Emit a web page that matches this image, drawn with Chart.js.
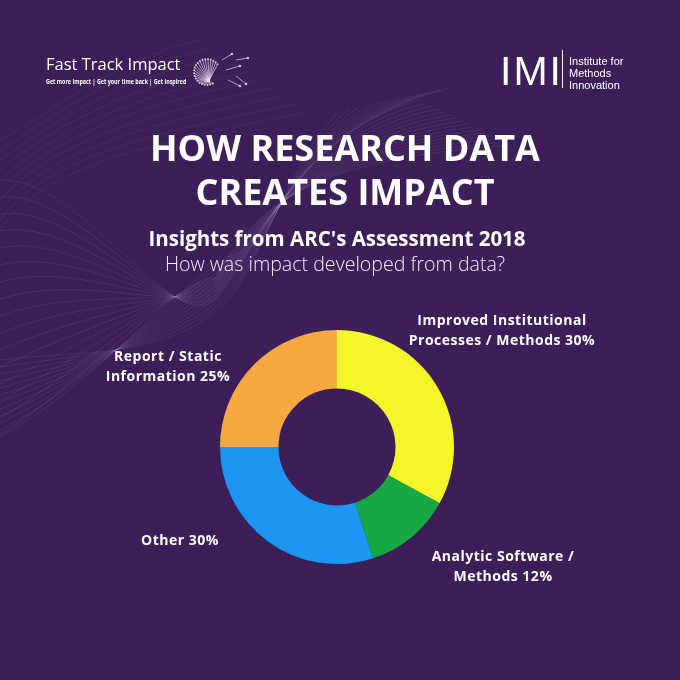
<!DOCTYPE html>
<html>
<head>
<meta charset="utf-8">
<script src="https://cdn.jsdelivr.net/npm/chart.js@4.4.1/dist/chart.umd.min.js"></script>
<style>
  html, body { margin: 0; padding: 0; background: #3c1f58; }
  #wrap { position: relative; width: 680px; height: 680px; overflow: hidden; background: #3c1f58; font-family: "Open Sans", sans-serif; color: #fff; }
  #bg, #chartBox { position: absolute; left: 0; top: 0; width: 680px; height: 680px; }
  .t { position: absolute; white-space: nowrap; line-height: 1; }
  .c { text-align: center; transform: translateX(-50%); }
  #title { left: 345px; top: 126px; font-size: 36px; font-weight: 700; line-height: 44px; letter-spacing: 0; }
  #sub1 { left: 337px; top: 228px; font-size: 20.5px; font-weight: 700; }
  #sub2 { left: 335px; top: 254px; font-size: 19.6px; font-weight: 300; color: #f1ecf5; }
  .lab { position: absolute; font-size: 14px; font-weight: 700; line-height: 20px; letter-spacing: 0.5px; text-align: center; transform: translateX(-50%); white-space: nowrap; }
  #fti { left: 46px; top: 56px; font-size: 16.5px; font-weight: 400; }
  #ftiTag { left: 46px; top: 79px; font-size: 6.4px; font-weight: 700; transform-origin: 0 0; transform: scaleX(0.84); }
  #imi { left: 500px; top: 51px; font-family: "Liberation Sans", sans-serif; font-size: 41px; font-weight: 400; letter-spacing: 2px; }
  #imiBar { position: absolute; left: 562px; top: 50px; width: 1px; height: 38px; background: #fff; }
  #imiTxt { left: 569px; top: 55px; font-family: "Liberation Sans", sans-serif; font-size: 11px; line-height: 12px; }
</style>
</head>
<body>
<div id="wrap">
  <canvas id="bg" width="680" height="680"></canvas>
  <div id="chartBox"><canvas id="donut"></canvas></div>

  <div class="t" id="fti">Fast Track Impact</div>
  <div class="t" id="ftiTag">Get more Impact | Get your time back | Get inspired</div>
  <div class="t" id="imi">IMI</div>
  <div id="imiBar"></div>
  <div class="t" id="imiTxt">Institute for<br>Methods<br>Innovation</div>

  <div class="t c" id="title">HOW RESEARCH DATA<br>CREATES IMPACT</div>
  <div class="t c" id="sub1">Insights from ARC's Assessment 2018</div>
  <div class="t c" id="sub2">How was impact developed from data?</div>

  <div id="labels"></div>
</div>

<script>
// ===== DATA =====
const categories = [
  "Improved Institutional Processes / Methods",
  "Analytic Software / Methods",
  "Other",
  "Report / Static Information"
];
// slice sizes as measured from the arcs
const shares = [33, 12, 30, 25];
// percentages printed on the labels
const printedPct = ["30%", "12%", "30%", "25%"];
const labelLines = [
  ["Improved Institutional", "Processes / Methods " + printedPct[0]],
  ["Analytic Software /", "Methods " + printedPct[1]],
  ["Other " + printedPct[2]],
  ["Report / Static", "Information " + printedPct[3]]
];
const sliceColors = ["#f4f52b", "#17a844", "#1b97f2", "#f5a940"];

// label anchor (centre x, top y)
const labelPos = [[502, 310], [503, 546], [180, 530], [168, 346]];

/* =========================
   BACKGROUND DECORATION
========================= */
const bg = document.getElementById("bg").getContext("2d");

function drawWaves() {
  bg.lineWidth = 0.8;
  for (let i = 0; i < 16; i++) {
    const a = 0.11 + 0.01 * (i % 4);
    bg.strokeStyle = `rgba(210, 190, 235, ${a})`;
    bg.beginPath();
    bg.moveTo(0, 180 + i * 17);
    bg.bezierCurveTo(80, 175 + i * 14, 175, 340 - i * 4, 215, 300 - i * 1.5);
    bg.bezierCurveTo(255, 255 - i * 3, 300, 130 + i * 2, 420 + i * 6, 100 + i * 3);
    bg.stroke();
  }
  for (let i = 0; i < 12; i++) {
    bg.strokeStyle = `rgba(210, 190, 235, 0.12)`;
    bg.beginPath();
    bg.moveTo(0, 360 + i * 7);
    bg.bezierCurveTo(80, 350 + i * 4, 170, 360 - i * 6, 228, 300 - i * 4);
    bg.bezierCurveTo(262, 260, 290, 160 - i * 3, 340 + i * 10, 110 - i * 2);
    bg.stroke();
  }
  for (let i = 0; i < 10; i++) {
    bg.strokeStyle = `rgba(210, 190, 235, 0.09)`;
    bg.beginPath();
    bg.moveTo(0, 140 + i * 10);
    bg.bezierCurveTo(40, 120 + i * 6, 110, 60 + i * 10, 200 + i * 12, 40 + i * 8);
    bg.stroke();
  }
}

function drawDandelion() {
  const cx = 207, cy = 72, r = 13;
  bg.strokeStyle = "rgba(235, 225, 245, 0.85)";
  bg.fillStyle = "rgba(235, 225, 245, 0.85)";
  bg.lineWidth = 0.8;
  for (let k = 0; k < 22; k++) {
    const ang = Math.PI * 0.35 + k * (Math.PI * 1.45 / 21);
    const x = cx + Math.cos(ang) * r, y = cy + Math.sin(ang) * r;
    bg.beginPath();
    bg.moveTo(cx + 2, cy + 9);
    bg.lineTo(x, y);
    bg.stroke();
    bg.beginPath();
    bg.arc(x, y, 1, 0, Math.PI * 2);
    bg.fill();
  }
  const seeds = [[222, 60, 232, 54], [226, 70, 240, 66], [228, 80, 240, 86], [236, 60, 248, 58], [236, 76, 246, 84]];
  seeds.forEach(([x1, y1, x2, y2]) => {
    bg.beginPath();
    bg.moveTo(x1, y1);
    bg.lineTo(x2, y2);
    bg.stroke();
    bg.beginPath();
    bg.arc(x2, y2, 1.3, 0, Math.PI * 2);
    bg.fill();
  });
}

drawWaves();
drawDandelion();

/* =========================
   LABELS
========================= */
const labelsEl = document.getElementById("labels");
labelLines.forEach((lines, i) => {
  const d = document.createElement("div");
  d.className = "lab";
  d.style.left = labelPos[i][0] + "px";
  d.style.top = labelPos[i][1] + "px";
  d.innerHTML = lines.join("<br>");
  labelsEl.appendChild(d);
});

/* =========================
   DONUT CHART
========================= */
new Chart(document.getElementById("donut").getContext("2d"), {
  type: "doughnut",
  data: {
    labels: categories,
    datasets: [
      {
        data: shares,
        backgroundColor: sliceColors,
        borderWidth: 0
      }
    ]
  },
  options: {
    responsive: true,
    maintainAspectRatio: false,
    animation: false,
    cutout: "50%",
    layout: {
      padding: { left: 220, right: 226, top: 330, bottom: 116 }
    },
    plugins: {
      legend: { display: false },
      tooltip: { enabled: false }
    }
  }
});
</script>
</body>
</html>
